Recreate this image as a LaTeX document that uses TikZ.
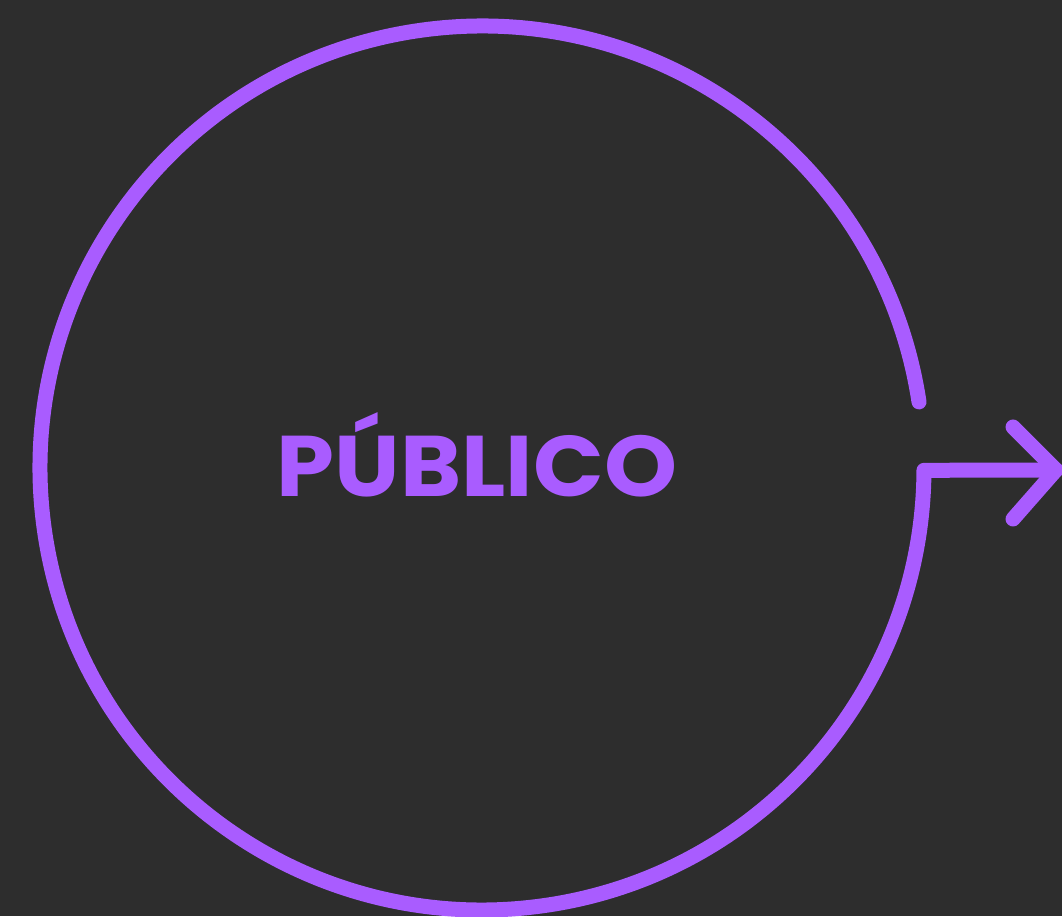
\documentclass[tikz,border=0pt]{standalone}
\usepackage{fontspec}
\setmainfont{Poppins}
\definecolor{bgdark}{HTML}{2D2D2D}
\definecolor{lilac}{HTML}{A95CFF}
\tikzset{ring/.style={draw=lilac, line width=15, line cap=round, line join=round}}
\begin{document}
\begin{tikzpicture}[x=1pt, y=1pt, font=\bfseries]
      % background
      \fill[bgdark] (0,0) rectangle (1062,916);
      \useasboundingbox (0,0) rectangle (1062,916);
      % ring
      \coordinate (centre) at (482,448);
      \coordinate (tip) at (1056,446);
      \path[ring] (centre) ++(8.6:442) arc[start angle=8.6, end angle=359.7, radius=442] -- (tip);
      % arrow head
      \coordinate (wing up) at (1013,489);
      \coordinate (wing down) at (1013,397);
      \path[ring] (wing up) -- (tip) -- (wing down);
      % label
      \node[text=lilac, font=\fontsize{86}{86}\selectfont\bfseries, xscale=1.08, transform shape] (publico) at (477,461) {PÚBLICO};
    \end{tikzpicture}
\end{document}
